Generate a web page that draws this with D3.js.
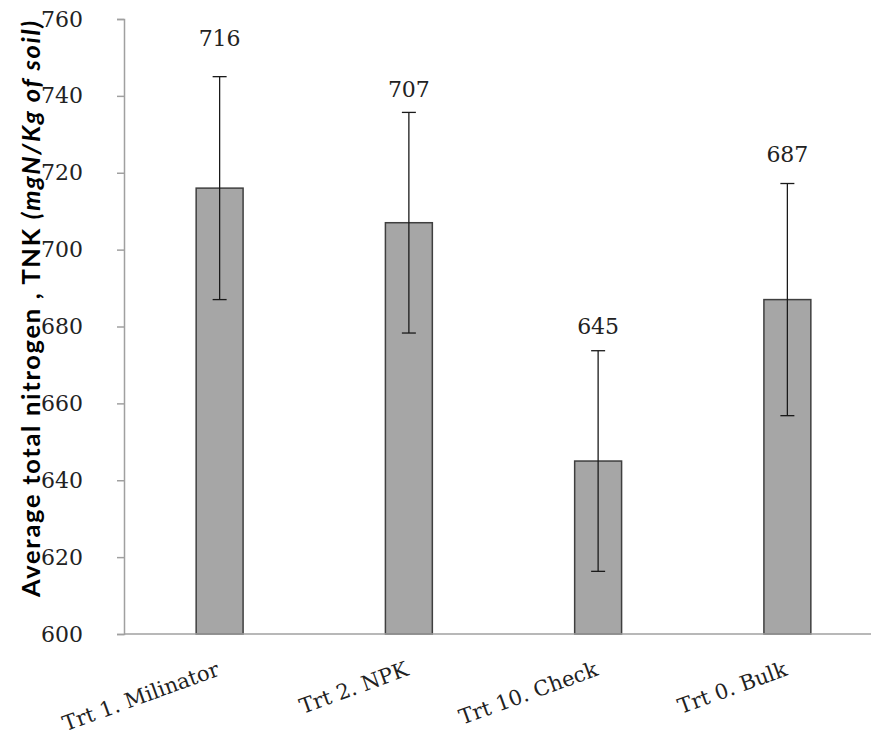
<!DOCTYPE html>
<html>
<head>
<meta charset="utf-8">
<script src="https://cdnjs.cloudflare.com/ajax/libs/d3/7.8.5/d3.min.js"></script>
<style>
  html, body { margin: 0; padding: 0; background: #fff; }
  svg { display: block; }
</style>
</head>
<body>
<svg id="chart" width="871" height="736"></svg>
<script>
// Treatments and their mean total nitrogen (mgN/Kg of soil)
const categories = ["Trt 1. Milinator", "Trt 2. NPK", "Trt 10. Check", "Trt 0. Bulk"];
const means = [716, 707, 645, 687];
// Half-width of each error bar
const errors = [29, 28.7, 28.7, 30.2];
// Height (in axis units) at which each value label sits
const labelAt = [753, 739.6, 678, 722.7];
const yTicks = [600, 620, 640, 660, 680, 700, 720, 740, 760];

const svg = d3.select("#chart");
const W = 871, H = 736;
const plot = { left: 124, top: 19, bottom: 634, right: 882 };

const x = d3.scaleBand()
  .domain(categories)
  .range([plot.left + 1, plot.right])
  .paddingInner(0.752)
  .paddingOuter(0.376);

const y = d3.scaleLinear()
  .domain([600, 760])
  .range([plot.bottom, plot.top]);

const data = categories.map((c, i) => ({ c, v: means[i], e: errors[i], l: labelAt[i] }));

// Y axis
const yAxis = d3.axisLeft(y).tickValues(yTicks).tickSize(7).tickPadding(34).tickFormat(d3.format("d"));
const gy = svg.append("g").attr("transform", `translate(${plot.left},0)`).call(yAxis);
gy.select(".domain").attr("stroke", "#a0a0a0").attr("stroke-width", 1.5);
gy.selectAll(".tick line").attr("stroke", "#a0a0a0").attr("stroke-width", 1.5);
gy.selectAll(".tick text")
  .attr("fill", "#222")
  .style("font-family", "'DejaVu Serif', serif")
  .style("font-size", "22px");

// Bars
svg.append("g").selectAll("rect").data(data).join("rect")
  .attr("x", d => x(d.c))
  .attr("y", d => y(d.v))
  .attr("width", x.bandwidth())
  .attr("height", d => y(600) - y(d.v))
  .attr("fill", "#a6a6a6")
  .attr("stroke", "#3f3f3f")
  .attr("stroke-width", 1.5);

// X axis baseline
svg.append("line")
  .attr("x1", plot.left).attr("x2", W)
  .attr("y1", y(600)).attr("y2", y(600))
  .attr("stroke", "#a0a0a0").attr("stroke-width", 1.5);

// Error bars
const eb = svg.append("g").attr("stroke", "#1a1a1a").attr("stroke-width", 1.3);
data.forEach(d => {
  const cx = x(d.c) + x.bandwidth() / 2;
  eb.append("line").attr("x1", cx).attr("x2", cx).attr("y1", y(d.v + d.e)).attr("y2", y(d.v - d.e));
  eb.append("line").attr("x1", cx - 7).attr("x2", cx + 7).attr("y1", y(d.v + d.e)).attr("y2", y(d.v + d.e));
  eb.append("line").attr("x1", cx - 7).attr("x2", cx + 7).attr("y1", y(d.v - d.e)).attr("y2", y(d.v - d.e));
});

// Value labels
svg.append("g").selectAll("text").data(data).join("text")
  .attr("x", d => x(d.c) + x.bandwidth() / 2)
  .attr("y", d => y(d.l))
  .attr("text-anchor", "middle")
  .attr("fill", "#222")
  .style("font-family", "'DejaVu Serif', serif")
  .style("font-size", "22px")
  .text(d => d3.format("d")(Math.round(d.v)));

// Category labels, rotated
svg.append("g").selectAll("text").data(data).join("text")
  .attr("transform", d => `translate(${x(d.c) + x.bandwidth() / 2 + 1},675) rotate(-20)`)
  .attr("text-anchor", "end")
  .attr("fill", "#222")
  .style("font-family", "'DejaVu Serif', serif")
  .style("font-size", "21px")
  .text(d => d.c);

// Y axis title
const title = svg.append("text")
  .attr("transform", "translate(40,309) rotate(-90)")
  .attr("text-anchor", "middle")
  .attr("fill", "#000")
  .attr("textLength", 576)
  .attr("lengthAdjust", "spacing")
  .style("font-family", "Lato, 'Open Sans', sans-serif")
  .style("font-size", "25.5px")
  .style("font-weight", "bold");
title.append("tspan").text("Average total nitrogen , TNK ");
title.append("tspan").style("font-style", "italic").text("(mgN/Kg of soil)");
</script>
</body>
</html>
